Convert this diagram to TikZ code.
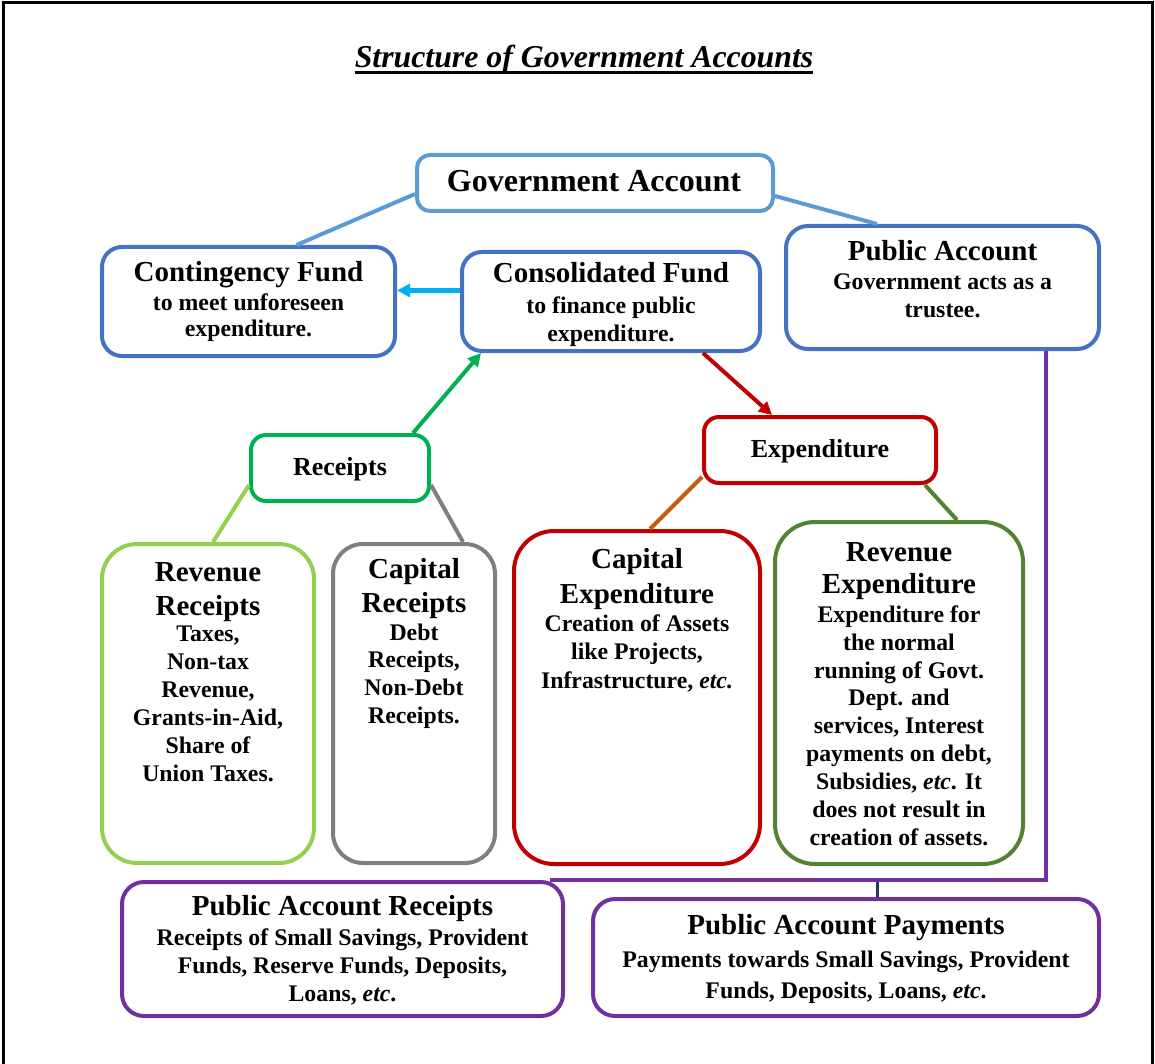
\documentclass[tikz,border=0pt]{standalone}
\usepackage{fontspec}
\setmainfont{Liberation Serif}
\usetikzlibrary{arrows.meta}

\definecolor{govblue}{HTML}{5B9BD5}
\definecolor{fundblue}{HTML}{4472C4}
\definecolor{arrowcyan}{HTML}{00B0F0}
\definecolor{rcptgreen}{HTML}{00B050}
\definecolor{expred}{HTML}{C00000}
\definecolor{lightgreen}{HTML}{92D050}
\definecolor{greyline}{HTML}{7F7F7F}
\definecolor{darkgreen}{HTML}{548235}
\definecolor{orangeline}{HTML}{C55A11}
\definecolor{pubpurple}{HTML}{7030A0}
\definecolor{navyline}{HTML}{1F3864}

% invisible strut fixing the top of a multi-line text block
\newcommand\firstline{\rule{0pt}{0.8em}}

\begin{document}
\begin{tikzpicture}[x=1pt,y=-1pt,
  box/.style={draw, line width=4pt, rounded corners=#1, inner sep=0pt},
  box/.default=20pt,
  hdone/.style={inner sep=0pt, anchor=base, font=\bfseries\fontsize{29}{34}\selectfont},
  hdmulti/.style={inner sep=0pt, anchor=north, align=center, font=\bfseries\fontsize{29}{#1}\selectfont},
  bodytext/.style={inner sep=0pt, anchor=north, align=center, font=\bfseries\fontsize{23.8}{#1}\selectfont},
  midtext/.style={inner sep=0pt, anchor=base, font=\bfseries\fontsize{26}{30}\selectfont},
  link/.style={line width=4pt},
  arr/.style={line width=4pt, -{Triangle[length=13pt,width=13pt]}}
]
\useasboundingbox (0,0) rectangle (1155,1064);

% page frame, open at the bottom
\draw[line width=3pt] (3,1064) -- (3,3) -- (1152,3) -- (1152,1064);

% title
\node[inner sep=0pt, anchor=base, font=\bfseries\itshape\fontsize{31.8}{36}\selectfont]
  (title) at (584,68) {Structure of Government Accounts};
\draw[line width=3pt] ([yshift=-4.5pt]title.base west) -- ([yshift=-4.5pt]title.base east);

% boxes
\node[box=13pt, draw=govblue, minimum width=356pt, minimum height=56pt] (gov) at (595,183) {};
\node[box=20pt, draw=fundblue, minimum width=293pt, minimum height=109pt] (cont) at (248.5,301.5) {};
\node[box=20pt, draw=fundblue, minimum width=298pt, minimum height=99pt] (cons) at (611,301.5) {};
\node[box=22pt, draw=fundblue, minimum width=313pt, minimum height=123pt] (pub) at (942.5,287.5) {};
\node[box=15pt, draw=rcptgreen, minimum width=178pt, minimum height=66pt] (rec) at (340,468) {};
\node[box=15pt, draw=expred, minimum width=232pt, minimum height=66pt] (exp) at (820,450) {};
\node[box=35pt, draw=lightgreen, minimum width=212pt, minimum height=319pt] (revrec) at (208,703.5) {};
\node[box=30pt, draw=greyline, minimum width=162pt, minimum height=319pt] (caprec) at (414,703.5) {};
\node[box=40pt, draw=expred, minimum width=246pt, minimum height=333pt] (capexp) at (637,697.5) {};
\node[box=40pt, draw=darkgreen, minimum width=248pt, minimum height=342pt] (revexp) at (899,693) {};
\node[box=22pt, draw=pubpurple, minimum width=441pt, minimum height=134pt] (par) at (342.5,949) {};
\node[box=22pt, draw=pubpurple, minimum width=506pt, minimum height=117pt] (pap) at (846,957.5) {};

% texts
\node[hdone] (govT) at (594,192) {\fontsize{32}{36}\selectfont Government Account};

\node[hdone] (contH) at (248.5,281) {Contingency Fund};
\node[bodytext=26] (contB) at (248.5,291) {\firstline to meet unforeseen\\expenditure.};

\node[hdone] (consH) at (611,283) {Consolidated Fund};
\node[bodytext=28] (consB) at (611,294) {\firstline to finance public\\expenditure.};

\node[hdone] (pubH) at (942.5,261) {Public Account};
\node[bodytext=28] (pubB) at (942.5,270) {\firstline Government acts as a\\trustee.};

\node[midtext] (recT) at (340,475) {Receipts};
\node[midtext] (expT) at (820,457) {Expenditure};

\node[hdmulti=34] (revrecH) at (208,557.8) {\firstline Revenue\\Receipts};
\node[bodytext=28] (revrecB) at (208,622) {\firstline Taxes,\\Non-tax\\Revenue,\\Grants-in-Aid,\\Share of\\Union Taxes.};

\node[hdmulti=34] (caprecH) at (414,554.8) {\firstline Capital\\Receipts};
\node[bodytext=27.7] (caprecB) at (414,621) {\firstline Debt\\Receipts,\\Non-Debt\\Receipts.};

\node[hdmulti=35] (capexpH) at (637,544.8) {\firstline Capital\\Expenditure};
\node[bodytext=28.5] (capexpB) at (637,612) {\firstline Creation of Assets\\like Projects,\\Infrastructure, \textit{etc.}};

\node[hdmulti=32] (revexpH) at (899,537.8) {\firstline Revenue\\Expenditure};
\node[bodytext=27.9] (revexpB) at (899,603) {\firstline Expenditure for\\the normal\\running of Govt.\\Dept. and\\services, Interest\\payments on debt,\\Subsidies, \textit{etc}. It\\does not result in\\creation of assets.};

\node[hdone] (parH) at (342.5,915) {Public Account Receipts};
\node[bodytext=28] (parB) at (342.5,926) {\firstline Receipts of Small Savings, Provident\\Funds, Reserve Funds, Deposits,\\Loans, \textit{etc}.};

\node[hdone] (papH) at (846,934) {Public Account Payments};
\node[bodytext=31] (papB) at (846,948) {\firstline Payments towards Small Savings, Provident\\Funds, Deposits, Loans, \textit{etc}.};

% connectors
\draw[link, govblue] ([yshift=-11pt]gov.west) -- ([xshift=48pt]cont.north);
\draw[link, govblue] ([yshift=-13pt]gov.east) -- ([xshift=-65.5pt]pub.north);
\draw[arr, arrowcyan] ([yshift=11pt]cons.west) -- ([yshift=11pt]cont.east);
\draw[arr, rcptgreen] ([xshift=73pt]rec.north) -- ([xshift=-130pt]cons.south);
\draw[arr, expred] ([xshift=92pt]cons.south) -- ([xshift=-48pt]exp.north);
\draw[link, lightgreen] ([yshift=-17pt]rec.west) -- ([xshift=5pt]revrec.north);
\draw[link, greyline] ([yshift=-17pt]rec.east) -- ([xshift=49pt]caprec.north);
\draw[link, orangeline] ([yshift=-27pt]exp.west) -- ([xshift=13pt]capexp.north);
\draw[link, darkgreen] ([xshift=105pt]exp.south) -- ([xshift=58pt]revexp.north);
\draw[link, pubpurple] ([xshift=103.5pt]pub.south) |- ([xshift=-15pt]par.north east);
\coordinate (pj) at (877,882);
\draw[line width=3pt, navyline] (pj) -- (pj |- pap.north);
\end{tikzpicture}
\end{document}
